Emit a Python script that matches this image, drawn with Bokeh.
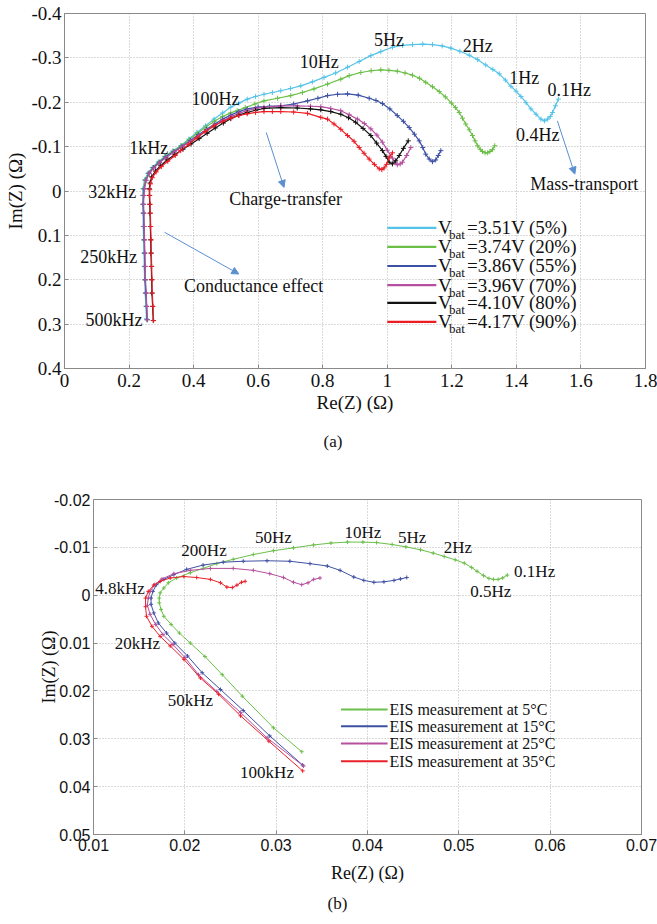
from bokeh.plotting import figure
from bokeh.models import Range1d, FixedTicker, Label, Arrow, NormalHead, Title
from bokeh.embed import file_html
from bokeh.resources import INLINE

SERIF = "Liberation Serif"
SANS = "Liberation Sans"

# ---------------- Panel (a): Nyquist plots vs. battery voltage ----------------
a_labels = ["=3.51V (5%)", "=3.74V (20%)", "=3.86V (55%)", "=3.96V (70%)", "=4.10V (80%)", "=4.17V (90%)"]
a_colors = ["#55c3e8", "#6bbf47", "#3c50a4", "#b64fa0", "#111111", "#ec1c24"]

re_351 = [0.254,0.252,0.250,0.248,0.247,0.246,0.245,0.244,0.243,0.242,0.242,0.243,0.248,0.258,0.272,0.29,0.31,0.335,0.36,0.385,
          0.41,0.437,0.463,0.49,0.515,0.54,0.566,0.592,0.618,0.644,0.67,0.70,0.732,0.768,0.804,0.84,0.877,0.913,0.949,0.98,
          1.016,1.047,1.078,1.11,1.14,1.17,1.197,1.225,1.254,1.28,1.305,1.327,1.347,1.366,1.383,1.399,1.414,1.43,1.445,1.461,
          1.476,1.487,1.497,1.505,1.512,1.521,1.53]
im_351 = [0.288,0.26,0.23,0.20,0.17,0.14,0.11,0.08,0.05,0.03,0.01,-0.005,-0.025,-0.04,-0.053,-0.065,-0.078,-0.09,-0.102,-0.117,
          -0.132,-0.147,-0.162,-0.176,-0.189,-0.198,-0.207,-0.213,-0.218,-0.222,-0.226,-0.231,-0.237,-0.246,-0.256,-0.266,-0.279,-0.292,-0.305,-0.314,
          -0.324,-0.328,-0.33,-0.331,-0.33,-0.327,-0.322,-0.315,-0.306,-0.296,-0.284,-0.274,-0.264,-0.25,-0.236,-0.225,-0.213,-0.199,-0.185,-0.173,
          -0.162,-0.158,-0.162,-0.168,-0.177,-0.192,-0.207]

re_374 = [0.256,0.254,0.252,0.25,0.249,0.248,0.247,0.246,0.245,0.244,0.244,0.245,0.25,0.26,0.274,0.292,0.312,0.337,0.362,0.387,
          0.412,0.438,0.464,0.49,0.515,0.535,0.56,0.59,0.618,0.66,0.701,0.737,0.773,0.815,0.856,0.882,0.918,0.95,0.98,1.005,
          1.031,1.055,1.078,1.1,1.119,1.14,1.161,1.18,1.199,1.211,1.223,1.233,1.243,1.254,1.264,1.272,1.28,1.288,1.295,1.303,
          1.311,1.318,1.326,1.333]
im_374 = [0.29,0.26,0.23,0.20,0.17,0.14,0.11,0.08,0.05,0.03,0.01,-0.005,-0.025,-0.04,-0.053,-0.065,-0.078,-0.09,-0.102,-0.116,
          -0.13,-0.144,-0.157,-0.168,-0.176,-0.181,-0.188,-0.196,-0.203,-0.209,-0.215,-0.222,-0.23,-0.241,-0.252,-0.26,-0.267,-0.271,-0.273,-0.272,
          -0.27,-0.266,-0.261,-0.254,-0.245,-0.235,-0.224,-0.212,-0.198,-0.188,-0.177,-0.164,-0.151,-0.138,-0.125,-0.113,-0.102,-0.094,-0.089,-0.086,
          -0.086,-0.089,-0.093,-0.102]

re_386 = [0.256,0.254,0.252,0.25,0.249,0.248,0.247,0.246,0.245,0.244,0.245,0.247,0.252,0.262,0.276,0.294,0.314,0.339,0.364,0.39,
          0.415,0.44,0.466,0.49,0.515,0.54,0.566,0.6,0.635,0.67,0.71,0.753,0.785,0.815,0.846,0.877,0.91,0.944,0.965,0.985,
          1.008,1.031,1.05,1.068,1.084,1.099,1.11,1.119,1.13,1.14,1.15,1.158,1.166]
im_386 = [0.29,0.26,0.23,0.20,0.17,0.14,0.11,0.08,0.05,0.03,0.01,-0.005,-0.024,-0.04,-0.053,-0.065,-0.077,-0.089,-0.101,-0.114,
          -0.127,-0.139,-0.151,-0.162,-0.171,-0.179,-0.185,-0.189,-0.191,-0.192,-0.196,-0.203,-0.209,-0.215,-0.218,-0.219,-0.216,-0.209,-0.204,-0.197,
          -0.185,-0.17,-0.157,-0.143,-0.128,-0.113,-0.098,-0.083,-0.072,-0.066,-0.07,-0.08,-0.091]

re_396 = [0.257,0.255,0.253,0.251,0.25,0.249,0.248,0.247,0.246,0.245,0.246,0.248,0.253,0.263,0.277,0.295,0.315,0.34,0.365,0.39,
          0.415,0.44,0.465,0.49,0.515,0.54,0.566,0.592,0.618,0.67,0.721,0.762,0.794,0.825,0.856,0.882,0.908,0.929,0.949,0.968,
          0.985,1.0,1.016,1.024,1.031,1.04,1.047,1.06,1.073]
im_396 = [0.29,0.26,0.23,0.20,0.17,0.14,0.11,0.08,0.05,0.03,0.01,-0.005,-0.024,-0.04,-0.052,-0.064,-0.076,-0.088,-0.1,-0.112,
          -0.124,-0.136,-0.147,-0.158,-0.167,-0.175,-0.181,-0.186,-0.189,-0.192,-0.192,-0.191,-0.19,-0.186,-0.181,-0.172,-0.162,-0.152,-0.14,-0.126,
          -0.11,-0.092,-0.074,-0.065,-0.059,-0.061,-0.065,-0.08,-0.098]

re_410 = [0.275,0.273,0.271,0.27,0.269,0.268,0.267,0.266,0.265,0.264,0.263,0.263,0.265,0.27,0.282,0.298,0.318,0.342,0.367,0.392,
          0.417,0.442,0.467,0.492,0.515,0.54,0.566,0.592,0.618,0.67,0.721,0.762,0.794,0.825,0.856,0.88,0.902,0.925,0.949,0.967,
          0.985,0.996,1.006,1.016,1.026,1.037,1.05,1.065]
im_410 = [0.292,0.26,0.23,0.20,0.17,0.14,0.11,0.08,0.05,0.03,0.01,-0.005,-0.018,-0.032,-0.045,-0.057,-0.07,-0.082,-0.094,-0.106,
          -0.118,-0.13,-0.142,-0.153,-0.163,-0.171,-0.177,-0.182,-0.186,-0.188,-0.187,-0.185,-0.183,-0.179,-0.173,-0.165,-0.155,-0.141,-0.125,-0.108,
          -0.091,-0.078,-0.065,-0.061,-0.068,-0.08,-0.096,-0.113]

re_417 = [0.276,0.274,0.272,0.271,0.27,0.269,0.268,0.267,0.266,0.265,0.264,0.264,0.266,0.272,0.284,0.3,0.32,0.343,0.36,0.385,
          0.41,0.436,0.463,0.49,0.515,0.54,0.566,0.592,0.618,0.644,0.67,0.71,0.753,0.794,0.815,0.835,0.856,0.877,0.897,0.913,
          0.928,0.944,0.96,0.975,0.983,0.99,0.998,1.006,1.016]
im_417 = [0.292,0.26,0.23,0.20,0.17,0.14,0.11,0.08,0.05,0.03,0.01,-0.003,-0.016,-0.03,-0.043,-0.055,-0.067,-0.08,-0.091,-0.105,
          -0.12,-0.134,-0.147,-0.157,-0.164,-0.17,-0.174,-0.177,-0.179,-0.179,-0.179,-0.178,-0.175,-0.166,-0.162,-0.151,-0.139,-0.125,-0.112,-0.098,
          -0.085,-0.072,-0.06,-0.05,-0.048,-0.052,-0.06,-0.076,-0.086]

a_series = [(re_351, im_351), (re_374, im_374), (re_386, im_386), (re_396, im_396), (re_410, im_410), (re_417, im_417)]

a_xticks = [0, 0.2, 0.4, 0.6, 0.8, 1.0, 1.2, 1.4, 1.6, 1.8]
a_xtick_labels = ["0", "0.2", "0.4", "0.6", "0.8", "1", "1.2", "1.4", "1.6", "1.8"]
a_yticks = [-0.4, -0.3, -0.2, -0.1, 0, 0.1, 0.2, 0.3, 0.4]
a_ytick_labels = ["-0.4", "-0.3", "-0.2", "-0.1", "0", "0.1", "0.2", "0.3", "0.4"]

a_note_text = ["5Hz", "2Hz", "1Hz", "0.1Hz", "0.4Hz", "10Hz", "100Hz", "1kHz", "32kHz", "250kHz", "500kHz",
               "Charge-transfer", "Conductance effect", "Mass-transport"]
a_note_x = [1.005, 1.28, 1.424, 1.564, 1.466, 0.789, 0.468, 0.261, 0.148, 0.137, 0.153, 0.685, 0.586, 1.61]
a_note_y = [-0.341, -0.327, -0.255, -0.228, -0.126, -0.29, -0.207, -0.098, 0.002, 0.149, 0.29, 0.018, 0.214, -0.016]

a_arrow_x0 = [0.625, 0.31, 1.527]
a_arrow_y0 = [-0.132, 0.093, -0.158]
a_arrow_x1 = [0.68, 0.54, 1.581]
a_arrow_y1 = [-0.008, 0.187, -0.038]

# ---------------- Panel (b): Nyquist plots vs. temperature ----------------
b_labels = ["EIS measurement at 5°C", "EIS measurement at 15°C", "EIS measurement at 25°C", "EIS measurement at 35°C"]
b_colors = ["#6cbf4a", "#3f51a3", "#b5509d", "#e8212a"]

re_5 = [0.0328,0.0297,0.0263,0.0241,0.0222,0.0206,0.0194,0.0185,0.0177,0.0174,0.0172,0.0172,0.0173,0.0177,0.0182,0.0191,0.0206,0.022,0.0235,0.0253,
        0.0275,0.0297,0.0319,0.0341,0.036,0.0378,0.0395,0.041,0.0427,0.0442,0.0458,0.0472,0.0484,0.0496,0.0506,0.0514,0.052,0.0527,0.0533,0.0538,
        0.0543,0.0548,0.0553]
im_5 = [0.0327,0.0277,0.0211,0.0166,0.0128,0.01,0.0079,0.0061,0.0044,0.003,0.0016,0.0006,-0.0005,-0.0015,-0.0026,-0.0036,-0.0047,-0.0056,-0.0066,-0.0075,
        -0.0085,-0.0093,-0.0099,-0.0105,-0.0109,-0.0111,-0.0111,-0.011,-0.0106,-0.0101,-0.0095,-0.0088,-0.0081,-0.0074,-0.0067,-0.0058,-0.005,-0.0041,-0.0035,-0.0033,
        -0.0033,-0.0036,-0.0042]

re_15 = [0.0329,0.0293,0.0264,0.0239,0.0219,0.0203,0.0189,0.018,0.0171,0.0166,0.0163,0.0163,0.0165,0.0169,0.0177,0.0188,0.0202,0.022,0.0242,0.0264,
         0.029,0.0315,0.0337,0.0356,0.037,0.0385,0.0396,0.0407,0.0418,0.0429,0.0436,0.0443]
im_15 = [0.0355,0.0294,0.0241,0.0197,0.0162,0.0127,0.01,0.0079,0.0058,0.0037,0.0019,0.0006,-0.0008,-0.0022,-0.0033,-0.0043,-0.0054,-0.0063,-0.0069,-0.0071,
         -0.0072,-0.0071,-0.0066,-0.0061,-0.0052,-0.0038,-0.0031,-0.0027,-0.0028,-0.0031,-0.0034,-0.0037]

re_25 = [0.033,0.029,0.0261,0.0235,0.0215,0.02,0.0187,0.0176,0.0168,0.0162,0.0159,0.016,0.0162,0.0167,0.0175,0.0188,0.0206,0.0228,0.0253,0.0275,
         0.0293,0.0308,0.0319,0.0328,0.0335,0.0341,0.0348]
im_25 = [0.0357,0.0298,0.0245,0.0201,0.0166,0.013,0.0103,0.0082,0.0061,0.004,0.0021,0.0006,-0.0008,-0.0022,-0.0034,-0.0045,-0.0052,-0.0056,-0.0056,-0.0052,
         -0.0045,-0.0037,-0.0027,-0.0022,-0.0026,-0.0033,-0.0036]

re_35 = [0.0329,0.0292,0.0261,0.0237,0.0217,0.0199,0.0184,0.0173,0.0164,0.0158,0.0157,0.0157,0.016,0.0166,0.0173,0.0184,0.0199,0.0213,0.0228,0.0239,
         0.0246,0.0252,0.0257,0.0262,0.0266]
im_35 = [0.0367,0.0305,0.0252,0.0207,0.0173,0.0134,0.0106,0.0086,0.0065,0.0044,0.0024,0.0006,-0.0008,-0.0021,-0.0029,-0.0036,-0.0039,-0.0037,-0.0033,-0.0026,
         -0.0017,-0.0016,-0.0021,-0.0027,-0.0029]

b_series = [(re_5, im_5), (re_15, im_15), (re_25, im_25), (re_35, im_35)]

b_xticks = [0.01, 0.02, 0.03, 0.04, 0.05, 0.06, 0.07]
b_xtick_labels = ["0.01", "0.02", "0.03", "0.04", "0.05", "0.06", "0.07"]
b_yticks = [-0.02, -0.01, 0, 0.01, 0.02, 0.03, 0.04, 0.05]
b_ytick_labels = ["-0.02", "-0.01", "0", "0.01", "0.02", "0.03", "0.04", "0.05"]

b_note_text = ["200Hz", "50Hz", "10Hz", "5Hz", "2Hz", "0.1Hz", "0.5Hz", "4.8kHz", "20kHz", "50kHz", "100kHz"]
b_note_x = [0.0221, 0.0297, 0.0395, 0.0449, 0.0499, 0.0583, 0.0535, 0.0129, 0.0148, 0.0206, 0.029]
b_note_y = [-0.0093, -0.0121, -0.0132, -0.0121, -0.01, -0.0049, -0.0008, -0.0015, 0.01, 0.022, 0.037]


def style_axes(p, xticks, xlabels, yticks, ylabels, tick_font, tick_size,
               xstand, ystand, xlab_stand, ylab_stand):
    p.xaxis.ticker = FixedTicker(ticks=xticks)
    p.yaxis.ticker = FixedTicker(ticks=yticks)
    p.xaxis.major_label_overrides = {t: s for t, s in zip(xticks, xlabels)}
    p.yaxis.major_label_overrides = {t: s for t, s in zip(yticks, ylabels)}
    p.xgrid.ticker = FixedTicker(ticks=xticks)
    p.ygrid.ticker = FixedTicker(ticks=yticks)
    for g in (p.xgrid, p.ygrid):
        g.grid_line_color = "#b4b4b4"
        g.grid_line_dash = "1 2"
        g.grid_line_width = 1
    for ax in (p.xaxis, p.yaxis):
        ax.axis_line_color = "#8a8a8a"
        ax.major_tick_line_color = "#8a8a8a"
        ax.major_tick_in = 4
        ax.major_tick_out = 0
        ax.minor_tick_line_color = None
        ax.major_label_text_font = tick_font
        ax.major_label_text_font_size = tick_size
        ax.major_label_text_color = "#111111"
        ax.axis_label_text_font = SERIF
        ax.axis_label_text_font_style = "normal"
        ax.axis_label_text_color = "#111111"
    p.xaxis.major_label_standoff = xstand
    p.yaxis.major_label_standoff = ystand
    p.xaxis.axis_label_standoff = xlab_stand
    p.yaxis.axis_label_standoff = ylab_stand
    p.outline_line_color = "#8a8a8a"
    p.outline_line_width = 1


def note(p, x, y, text, size):
    p.add_layout(Label(x=x, y=y, text=text, text_align="center", text_baseline="middle",
                       text_font=SERIF, text_font_size=size, text_color="#111111"))


# ---------- figure (a) ----------
pa = figure(width=657, height=469, output_backend="svg", toolbar_location=None,
            x_range=Range1d(0, 1.8), y_range=Range1d(0.4, -0.4),
            min_border_left=64, min_border_right=12, min_border_top=13, min_border_bottom=101)
style_axes(pa, a_xticks, a_xtick_labels, a_yticks, a_ytick_labels, SERIF, "19px", 5, 3, 2, 2)
pa.xaxis.axis_label = "Re(Z) (Ω)"
pa.yaxis.axis_label = "Im(Z) (Ω)"
pa.xaxis.axis_label_text_font_size = "19px"
pa.yaxis.axis_label_text_font_size = "19px"

for (xs, ys), c in zip(a_series, a_colors):
    pa.line(xs, ys, line_color=c, line_width=1.2)
    pa.scatter(xs, ys, marker="cross", size=5, line_color=c, line_width=1)

for x0, y0, x1, y1 in zip(a_arrow_x0, a_arrow_y0, a_arrow_x1, a_arrow_y1):
    pa.add_layout(Arrow(end=NormalHead(size=7, fill_color="#5b8fd0", line_color="#5b8fd0"),
                        x_start=x0, y_start=y0, x_end=x1, y_end=y1,
                        line_color="#5b8fd0", line_width=1))

for t, x, y in zip(a_note_text, a_note_x, a_note_y):
    note(pa, x, y, t, "18px")

# legend (a), drawn by hand to allow the "bat" subscript
leg_a_x0, leg_a_x1, leg_a_tx = 1.0, 1.152, 1.157
leg_a_rows = [0.083, 0.126, 0.169, 0.212, 0.252, 0.295]
for yy, c, lab in zip(leg_a_rows, a_colors, a_labels):
    pa.line([leg_a_x0, leg_a_x1], [yy, yy], line_color=c, line_width=2.2)
    pa.add_layout(Label(x=leg_a_tx, y=yy, text="V", text_align="left", text_baseline="middle",
                        text_font=SERIF, text_font_size="19px", text_color="#111111"))
    pa.add_layout(Label(x=leg_a_tx, y=yy, x_offset=11, y_offset=-7, text="bat", text_align="left",
                        text_baseline="middle", text_font=SERIF, text_font_size="13px", text_color="#111111"))
    pa.add_layout(Label(x=leg_a_tx, y=yy, x_offset=29, text=lab, text_align="left", text_baseline="middle",
                        text_font=SERIF, text_font_size="19px", text_color="#111111"))

pa.add_layout(Title(text="(a)", align="left", offset=259, text_font=SERIF, text_font_size="17px",
                    text_font_style="normal", text_color="#111111", standoff=28), "below")

# ---------- figure (b) ----------
pb = figure(width=657, height=455, output_backend="svg", toolbar_location=None,
            x_range=Range1d(0.01, 0.07), y_range=Range1d(0.05, -0.02),
            min_border_left=93, min_border_right=16, min_border_top=30, min_border_bottom=90)
style_axes(pb, b_xticks, b_xtick_labels, b_yticks, b_ytick_labels, SANS, "16px", 4, 3, 9, -8)
pb.xaxis.axis_label = "Re(Z) (Ω)"
pb.yaxis.axis_label = "Im(Z) (Ω)"
pb.xaxis.axis_label_text_font_size = "18px"
pb.yaxis.axis_label_text_font_size = "18px"

for (xs, ys), c in zip(b_series, b_colors):
    pb.line(xs, ys, line_color=c, line_width=1)
    pb.scatter(xs, ys, marker="cross", size=4, line_color=c, line_width=1)

for t, x, y in zip(b_note_text, b_note_x, b_note_y):
    note(pb, x, y, t, "17px")

leg_b_x0, leg_b_x1, leg_b_tx = 0.0371, 0.0422, 0.0424
leg_b_rows = [0.0239, 0.0274, 0.031, 0.0347]
for yy, c, lab in zip(leg_b_rows, b_colors, b_labels):
    pb.line([leg_b_x0, leg_b_x1], [yy, yy], line_color=c, line_width=2)
    pb.add_layout(Label(x=leg_b_tx, y=yy, text=lab, text_align="left", text_baseline="middle",
                        text_font=SERIF, text_font_size="16px", text_color="#111111"))

pb.add_layout(Title(text="(b)", align="left", offset=234, text_font=SERIF, text_font_size="17px",
                    text_font_style="normal", text_color="#111111", standoff=13), "below")

open("out.html", "w").write(file_html([pa, pb], INLINE))
